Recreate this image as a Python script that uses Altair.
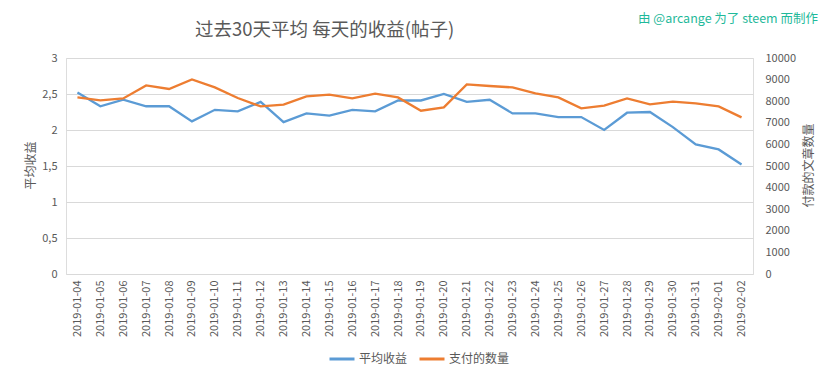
import altair as alt
import pandas as pd

dates = ["2019-01-04", "2019-01-05", "2019-01-06", "2019-01-07", "2019-01-08", "2019-01-09",
         "2019-01-10", "2019-01-11", "2019-01-12", "2019-01-13", "2019-01-14", "2019-01-15",
         "2019-01-16", "2019-01-17", "2019-01-18", "2019-01-19", "2019-01-20", "2019-01-21",
         "2019-01-22", "2019-01-23", "2019-01-24", "2019-01-25", "2019-01-26", "2019-01-27",
         "2019-01-28", "2019-01-29", "2019-01-30", "2019-01-31", "2019-02-01", "2019-02-02"]
avg_reward = [2.52, 2.33, 2.42, 2.33, 2.33, 2.12, 2.28, 2.26, 2.39, 2.11, 2.23, 2.20, 2.28, 2.26, 2.41,
              2.41, 2.50, 2.39, 2.42, 2.23, 2.23, 2.18, 2.18, 2.00, 2.24, 2.25, 2.04, 1.80, 1.73, 1.52]
paid_count = [8176, 8037, 8130, 8731, 8565, 9009, 8639, 8148, 7759, 7838, 8222, 8301, 8130, 8347, 8176,
              7560, 7713, 8778, 8704, 8639, 8361, 8176, 7667, 7792, 8130, 7852, 7977, 7898, 7759, 7250]
series_names = ["平均收益", "支付的数量"]
colors = ["#5b9bd5", "#ed7d31"]
left_ticks = [0, 0.5, 1, 1.5, 2, 2.5, 3]
right_ticks = [0, 1000, 2000, 3000, 4000, 5000, 6000, 7000, 8000, 9000, 10000]
title_text = "过去30天平均 每天的收益(帖子)"
credit_text = "由 @arcange 为了 steem 而制作"

FONT = "Noto Sans CJK SC"
GRAY = "#595959"

df1 = pd.DataFrame({"date": dates, "value": avg_reward, "series": series_names[0]})
df2 = pd.DataFrame({"date": dates, "value": paid_count, "series": series_names[1]})

color = alt.Color("series:N",
                  scale=alt.Scale(domain=series_names, range=colors),
                  legend=alt.Legend(title=None, orient="none", legendX=262, legendY=287,
                                    direction="horizontal", symbolType="stroke",
                                    symbolStrokeWidth=3, symbolSize=625, columnPadding=5,
                                    labelOffset=3,
                                    labelFont=FONT, labelFontSize=12, labelColor=GRAY))

x = alt.X("date:O", sort=None, title=None,
          axis=alt.Axis(labelAngle=-90, ticks=False, domain=False, grid=False,
                        labelFont=FONT, labelFontSize=11, labelColor=GRAY, labelPadding=6))

line1 = alt.Chart(df1).mark_line(strokeWidth=2.3).encode(
    x=x,
    y=alt.Y("value:Q", title="平均收益",
            scale=alt.Scale(domain=[0, 3], nice=False, zero=True),
            axis=alt.Axis(values=left_ticks,
                          labelExpr="replace(format(datum.value, '~g'), '.', ',')",
                          grid=True, gridColor="#d9d9d9", ticks=False, domain=False,
                          labelFont=FONT, labelFontSize=11, labelColor=GRAY, labelPadding=9,
                          titleFont=FONT, titleFontSize=12, titleColor=GRAY,
                          titleFontWeight="normal", titleX=-36, titleY=107,
                          titleAlign="center", titleBaseline="middle", titleAngle=-90)),
    color=color,
)

line2 = alt.Chart(df2).mark_line(strokeWidth=2.3).encode(
    x=x,
    y=alt.Y("value:Q", title="付款的文章数量",
            scale=alt.Scale(domain=[0, 10000], nice=False, zero=True),
            axis=alt.Axis(orient="right", values=right_ticks, format="d",
                          grid=False, ticks=False, domain=False,
                          labelFont=FONT, labelFontSize=11, labelColor=GRAY, labelPadding=12,
                          titleFont=FONT, titleFontSize=12, titleColor=GRAY,
                          titleFontWeight="normal", titleX=55, titleY=107,
                          titleAlign="center", titleBaseline="middle", titleAngle=-90)),
    color=color,
)

credit = alt.Chart(pd.DataFrame({"t": [credit_text]})).mark_text(
    align="right", baseline="middle", font=FONT, fontSize=12.5, color="#1fb99a"
).encode(x=alt.value(752), y=alt.value(-39), text="t:N")

title = alt.Chart(pd.DataFrame({"t": [title_text]})).mark_text(
    align="left", baseline="middle", font=FONT, fontSize=18.5, color=GRAY
).encode(x=alt.value(129), y=alt.value(-28), text="t:N")

chart = alt.layer(line1, line2, credit, title).resolve_scale(y="independent").properties(
    width=687, height=216,
    autosize=alt.AutoSizeParams(type="none"),
    padding={"left": 58, "top": 50, "right": 72, "bottom": 100},
).configure_view(stroke=None).configure(background="white")

chart.save("out.html", embed_options={"renderer": "svg", "actions": False})
